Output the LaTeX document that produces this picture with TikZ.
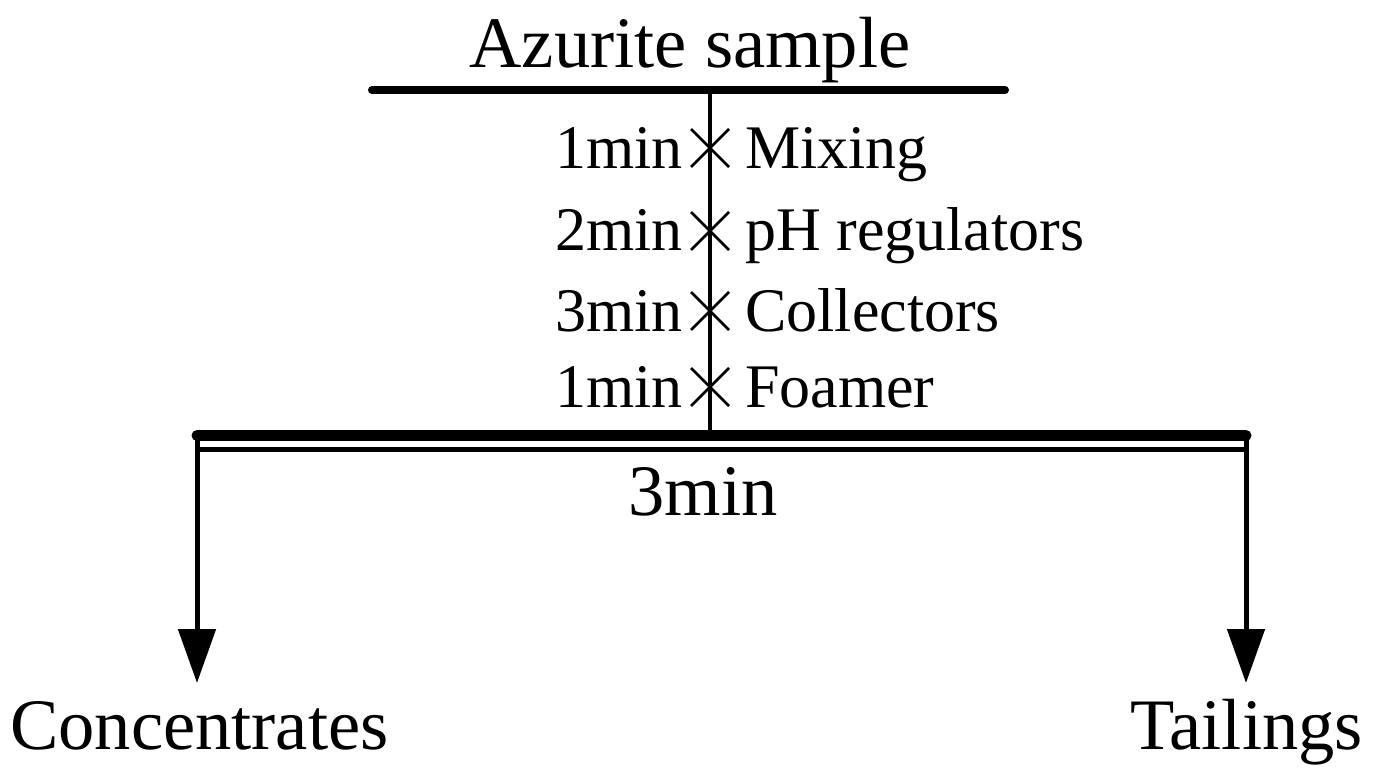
\documentclass[tikz,border=0pt]{standalone}
\usepackage{fontspec}
\setmainfont{Liberation Serif}
\usetikzlibrary{arrows.meta}
\begin{document}
\begin{tikzpicture}[x=1pt,y=-1pt,
  big/.style={font=\fontsize{72.5}{80}\selectfont, inner sep=0pt, anchor=base},
  small/.style={font=\fontsize{62}{68}\selectfont, inner sep=0pt, anchor=base},
  xmark/.style={line width=2.8pt},
  flow/.style={line width=5pt, -{Triangle[length=54pt,width=37pt]}}]
\useasboundingbox (0,0) rectangle (1377,781);
% top bar
\coordinate (tl) at (372,90);
\coordinate (tr) at (1005,90);
\draw[line width=8pt, line cap=round] (tl) -- (tr);
\node[big] (title) at (690,68) {Azurite sample};
% main vertical
\coordinate (vt) at (710,90);
\coordinate (vb) at (710,434);
\draw[line width=4pt] (vt) -- (vb);
% steps
\foreach \y/\t/\l [count=\i] in {168/1min/Mixing,251/2min/pH regulators,331/3min/Collectors,407/1min/Foamer}{
  \node[small, anchor=base east] (t\i) at (683,\y) {\t};
  \node[small, anchor=base west] (l\i) at (745,\y) {\l};
  \coordinate (c\i) at (710,\y-20);
  \draw[xmark] ([shift={(-19,-19)}]c\i) -- ([shift={(19,19)}]c\i);
  \draw[xmark] ([shift={(-19,19)}]c\i) -- ([shift={(19,-19)}]c\i);
}
% flotation cell bar
\coordinate (bl) at (197,435.5);
\coordinate (br) at (1246,435.5);
\draw[line width=11pt, line cap=round] (bl) -- (br);
\coordinate (bl2) at (197,449.5);
\coordinate (br2) at (1246,449.5);
\draw[line width=4.5pt] (bl2) -- (br2);
\node[big] (time) at (703,515) {3min};
% outputs
\node[big, anchor=base west] (conc) at (10,749) {Concentrates};
\node[big, anchor=base east] (tail) at (1363,749) {Tailings};
\coordinate (al) at (197,683);
\coordinate (ar) at (1246,683);
\draw[flow] (bl) -- (al);
\draw[flow] (br) -- (ar);
\end{tikzpicture}
\end{document}
